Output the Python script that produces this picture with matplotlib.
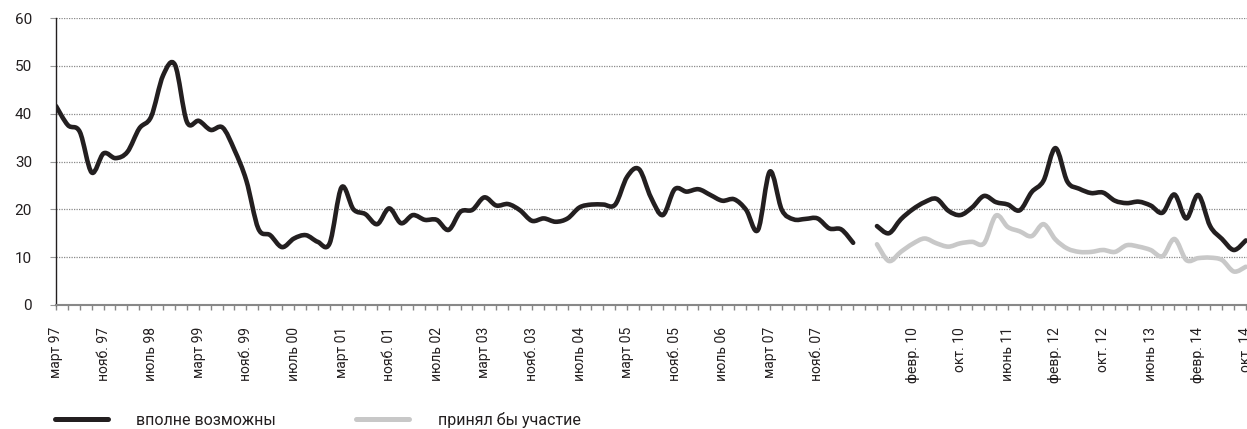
import numpy as np
import matplotlib
matplotlib.use('Agg')
import matplotlib.pyplot as plt
from matplotlib.path import Path
from matplotlib.patches import PathPatch
from matplotlib.lines import Line2D

plt.rcParams['font.family'] = ['Roboto', 'Liberation Sans', 'DejaVu Sans']

# ---------------- data ----------------
tick_labels = ['март 97', 'нояб. 97', 'июль 98', 'март 99', 'нояб. 99', 'июль 00',
               'март 01', 'нояб. 01', 'июль 02', 'март 03', 'нояб. 03', 'июль 04',
               'март 05', 'нояб. 05', 'июль 06', 'март 07', 'нояб. 07', '',
               'февр. 10', 'окт. 10', 'июнь 11', 'февр. 12', 'окт. 12', 'июнь 13',
               'февр. 14', 'окт. 14']
label_every = 4

nan = np.nan
vpolne = [41.6, 37.6, 36.2, 27.7, 31.7, 30.7, 32.0, 36.9, 39.4, 48.0,
          50.2, 38.3, 38.5, 36.6, 37.1, 32.4, 26.0, 16.0, 14.6, 12.1,
          13.9, 14.6, 13.2, 12.9, 24.6, 20.0, 19.0, 16.9, 20.2, 17.1,
          18.8, 17.8, 17.8, 15.7, 19.5, 19.9, 22.5, 20.8, 21.1, 19.8,
          17.6, 18.1, 17.4, 18.1, 20.4, 21.0, 21.0, 21.0, 26.8, 28.4,
          22.5, 18.8, 24.2, 23.7, 24.2, 23.0, 21.8, 22.1, 19.9, 15.7,
          27.9, 19.9, 17.9, 18.0, 18.1, 16.0, 15.8, 13.0, nan, 16.5,
          15.0, 17.9, 20.0, 21.5, 22.2, 19.7, 18.8, 20.4, 22.8, 21.5,
          21.0, 19.8, 23.6, 26.0, 32.8, 25.8, 24.3, 23.4, 23.5, 21.8,
          21.3, 21.6, 20.8, 19.3, 23.1, 18.1, 23.0, 16.5, 13.8, 11.5,
          13.5]

prinyal = [nan] * 69 + [
          12.7, 9.2, 11.1, 12.8, 13.9, 12.9, 12.2, 12.9, 13.2, 12.9,
          18.7, 16.3, 15.4, 14.4, 16.9, 13.7, 11.8, 11.1, 11.1, 11.5,
          11.1, 12.5, 12.2, 11.5, 10.2, 13.8, 9.4, 9.8, 9.9, 9.4,
          7.0, 8.0]

series_names = ['вполне возможны', 'принял бы участие']
series_colors = ['#231f20', '#c8c8c8']

y_ticks = [0, 10, 20, 30, 40, 50, 60]


def smooth_path(xs, ys):
    """Excel-like smoothed line (Catmull-Rom as cubic Bezier), broken at NaN."""
    xs = np.asarray(xs, float)
    ys = np.asarray(ys, float)
    idx = np.where(~np.isnan(ys))[0]
    runs = np.split(idx, np.where(np.diff(idx) > 1)[0] + 1)
    verts, codes = [], []
    for run in runs:
        if len(run) == 0:
            continue
        px, py = xs[run], ys[run]
        n = len(px)
        verts.append((px[0], py[0]))
        codes.append(Path.MOVETO)
        for i in range(n - 1):
            i0 = max(i - 1, 0)
            i3 = min(i + 2, n - 1)
            c1 = (px[i] + (px[i + 1] - px[i0]) / 6, py[i] + (py[i + 1] - py[i0]) / 6)
            c2 = (px[i + 1] - (px[i3] - px[i]) / 6, py[i + 1] - (py[i3] - py[i]) / 6)
            verts += [c1, c2, (px[i + 1], py[i + 1])]
            codes += [Path.CURVE4] * 3
    return Path(verts, codes)


W, H = 1247, 429
fig = plt.figure(figsize=(W / 100, H / 100), dpi=100)
ax = fig.add_axes([56 / W, 1 - 305 / H, (W - 56) / W, (305 - 18) / H])

n_cat = len(vpolne)
x = np.arange(n_cat)

for vals, col in zip([vpolne, prinyal], series_colors):
    p = smooth_path(x, vals)
    ax.add_patch(PathPatch(p, fill=False, edgecolor=col, lw=3.3,
                           capstyle='round', joinstyle='round', zorder=3))

ax.set_xlim(0, n_cat - 1 + 0.1)
ax.set_ylim(0, 60)

# x ticks: one per category, labelled every 4th
labels_full = [''] * n_cat
for k, lab in enumerate(tick_labels):
    pos = k * label_every
    if pos < n_cat:
        labels_full[pos] = lab
ax.set_xticks(x)
ax.set_xticklabels(labels_full, rotation=90, fontsize=10, color='#231f20')
ax.tick_params(axis='x', length=3.5, width=1, color='#888888', direction='out', pad=12.5)

ax.set_yticks(y_ticks)
ax.set_yticklabels([str(v) for v in y_ticks], fontsize=11, color='#231f20')
ax.tick_params(axis='y', length=4.3, width=0.8, color='#999999', direction='out', pad=13)

ax.yaxis.grid(True, linestyle=(0, (1, 1)), color='#8a8a8a', linewidth=0.9)
ax.set_axisbelow(True)

for s in ['top', 'right']:
    ax.spines[s].set_visible(False)
ax.spines['left'].set_color('#231f20')
ax.spines['left'].set_linewidth(1.0)
ax.spines['bottom'].set_color('#888888')
ax.spines['bottom'].set_linewidth(1.5)

handles = [Line2D([], [], color=c, lw=3.6, solid_capstyle='round') for c in series_colors]
fig.legend(handles, series_names, loc='center left',
           bbox_to_anchor=(55 / W, 1 - 420 / H), ncol=2, frameon=False,
           fontsize=11.5, handlelength=3.3, handletextpad=1.8,
           columnspacing=5.0, borderpad=0, borderaxespad=0,
           labelcolor='#231f20')

fig.savefig('out.png', dpi=100)
